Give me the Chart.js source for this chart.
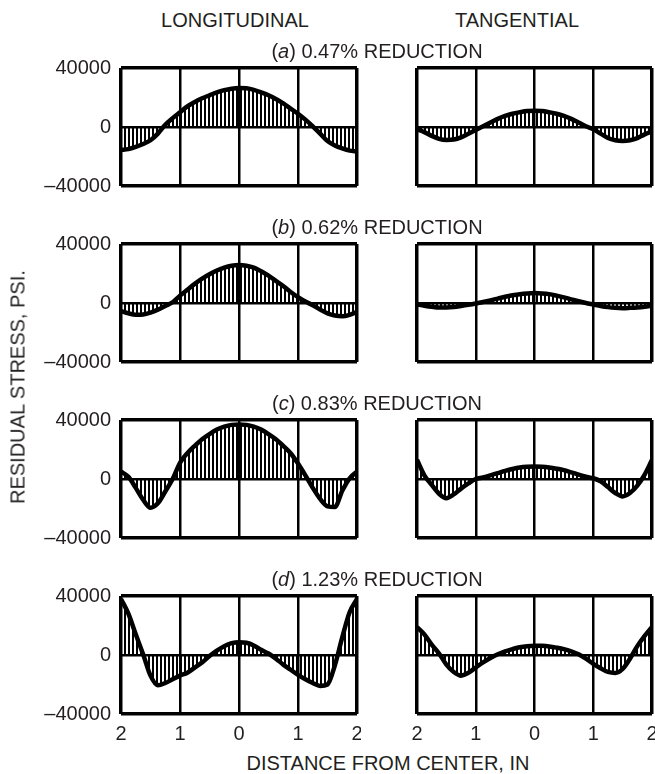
<!DOCTYPE html>
<html>
<head>
<meta charset="utf-8">
<script src="https://cdn.jsdelivr.net/npm/chart.js@4.4.1/dist/chart.umd.min.js"></script>
<style>
  body { margin: 0; background: #fff; }
  #wrap { position: relative; width: 655px; height: 774px; overflow: hidden; font-family: "Liberation Sans", Arial, sans-serif; color: #231f20; }
  canvas { position: absolute; }
  .lbl { position: absolute; font-size: 20px; white-space: nowrap; transform: translate(-50%, -50%); }
</style>
</head>
<body>
<div id="wrap">
  <canvas id="aL" width="361" height="142" style="left:0;top:56px"></canvas>
  <canvas id="aT" width="243" height="142" style="left:412px;top:56px"></canvas>
  <canvas id="bL" width="361" height="142" style="left:0;top:232px"></canvas>
  <canvas id="bT" width="243" height="142" style="left:412px;top:232px"></canvas>
  <canvas id="cL" width="361" height="142" style="left:0;top:408px"></canvas>
  <canvas id="cT" width="243" height="142" style="left:412px;top:408px"></canvas>
  <canvas id="dL" width="361" height="162" style="left:0;top:584px"></canvas>
  <canvas id="dT" width="243" height="162" style="left:412px;top:584px"></canvas>

  <div class="lbl" style="left:235px;top:20px">LONGITUDINAL</div>
  <div class="lbl" style="left:517px;top:20px">TANGENTIAL</div>
  <div class="lbl" style="left:377px;top:51px">(<i>a</i>) 0.47% REDUCTION</div>
  <div class="lbl" style="left:377px;top:227px">(<i>b</i>) 0.62% REDUCTION</div>
  <div class="lbl" style="left:377px;top:403px">(<i>c</i>) 0.83% REDUCTION</div>
  <div class="lbl" style="left:377px;top:579px">(<i>d</i>) 1.23% REDUCTION</div>
  <div class="lbl" style="left:388px;top:763px">DISTANCE FROM CENTER, IN</div>
  <div class="lbl" style="left:18px;top:387px;transform:translate(-50%,-50%) rotate(-90deg)">RESIDUAL STRESS, PSI.</div>
</div>
<script>
// distance from center, inches (left edge = 2, center = 0, right edge = 2)
const xPos = [-2, -1.875, -1.75, -1.625, -1.5, -1.375, -1.25, -1.125, -1, -0.875, -0.75, -0.625, -0.5, -0.375, -0.25, -0.125, 0,
  0.125, 0.25, 0.375, 0.5, 0.625, 0.75, 0.875, 1, 1.125, 1.25, 1.375, 1.5, 1.625, 1.75, 1.875, 2];

// residual stress, psi
const longA = [-15500, -15000, -13500, -11500, -9000, -4500, 1500, 6000, 10000, 14000, 17000, 19500, 21500, 23500, 25000, 26000, 26500,
  26200, 25200, 23500, 21500, 19000, 16000, 12500, 9000, 5000, 500, -4500, -9500, -12500, -14500, -16000, -16500];
const tanA = [-1500, -3500, -6000, -8000, -8800, -8500, -7000, -4500, -2000, 500, 3000, 5500, 7500, 9000, 10000, 10800, 11000,
  10800, 10000, 9000, 7500, 5500, 3000, 500, -1500, -4500, -7500, -9000, -9500, -9000, -7500, -5000, -3000];
const longB = [-5500, -7000, -8000, -7800, -6500, -4500, -2000, 500, 5000, 9000, 13000, 16500, 19500, 22000, 24000, 25300, 25800,
  25300, 24000, 21500, 18500, 15000, 11500, 7500, 4000, 1000, -1500, -4500, -7000, -8500, -9000, -8000, -6000];
const tanB = [-1000, -1800, -2500, -3000, -3000, -2700, -2000, -1200, -300, 700, 1800, 3000, 4200, 5200, 6000, 6500, 6700,
  6500, 6000, 5000, 3800, 2500, 1200, 0, -1000, -2000, -2800, -3300, -3500, -3300, -3000, -2500, -1800];
const longC = [5000, 1500, -6000, -14000, -19500, -16500, -8500, 0, 11000, 17500, 22500, 27000, 30500, 33500, 35500, 36700, 37000,
  36700, 35500, 33500, 30500, 27000, 22500, 17500, 10500, 2500, -6000, -13500, -18500, -19000, -8000, 500, 5000];
const tanC = [13000, 2500, -4000, -10000, -13000, -10500, -6500, -3000, 0, 1000, 2500, 4000, 5500, 6800, 7800, 8300, 8500,
  8300, 7800, 7000, 6000, 4500, 3000, 1500, 500, -1500, -5500, -9500, -11800, -9500, -4500, 3000, 13000];
const longD = [38000, 28000, 14000, 500, -14000, -20500, -19000, -16500, -14000, -12000, -8500, -5000, -700, 3000, 6000, 8000, 8700,
  8300, 6500, 3500, 1000, -2500, -6500, -10000, -13500, -16500, -19000, -21000, -20000, -7000, 12000, 29000, 38000];
const tanD = [19000, 14000, 7000, 1000, -6500, -11500, -14000, -12000, -8500, -5000, -2000, 500, 2500, 4000, 5300, 6000, 6300,
  6200, 5800, 5000, 4000, 2500, 500, -2500, -6000, -9000, -11500, -12200, -9500, -2500, 6000, 13000, 19000];

// ticks
const xTickValues = [-2, -1, 0, 1, 2];
const xTickLabels = ['2', '1', '0', '1', '2'];
const yTickValues = [-40000, 0, 40000];
const yTickLabels = ['\u201340000', '0', '40000'];

// vertical hatching for the area between curve and zero
function makeHatch() {
  const c = document.createElement('canvas');
  c.width = 4; c.height = 4;
  const g = c.getContext('2d');
  g.fillStyle = '#000';
  g.fillRect(0, 0, 2, 4);
  return g.createPattern(c, 'repeat');
}
const hatch = makeHatch();

const tickFont = { family: '"Liberation Sans", Arial, sans-serif', size: 20 };

// stop Chart.js from shrinking the plot to make room for the end labels
function noPad(s) {
  s.paddingTop = 0; s.paddingBottom = 0; s.paddingLeft = 0; s.paddingRight = 0;
}

function makePanel(id, values, isLeft, isBottom) {
  const ctx = document.getElementById(id).getContext('2d');
  return new Chart(ctx, {
    type: 'line',
    data: {
      datasets: [{
        data: xPos.map((x, i) => ({ x: x, y: values[i] })),
        borderColor: '#000',
        borderWidth: 4.5,
        pointRadius: 0,
        fill: 'origin',
        backgroundColor: hatch,
        cubicInterpolationMode: 'monotone'
      }]
    },
    options: {
      responsive: false,
      animation: false,
      events: [],
      layout: { padding: { top: 12, bottom: isBottom ? 0 : 12, left: isLeft ? 0 : 5, right: isLeft ? 4 : 3 } },
      plugins: { legend: { display: false }, tooltip: { enabled: false } },
      scales: {
        x: {
          type: 'linear', min: -2, max: 2,
          afterBuildTicks: s => { s.ticks = xTickValues.map(v => ({ value: v })); },
          afterFit: s => { s.height = isBottom ? 32 : 0; noPad(s); },
          grid: { color: '#000', drawTicks: false, lineWidth: c => (c.index === 0 || c.index === 4) ? 3.5 : 2.5 },
          border: { display: false },
          ticks: { display: isBottom, padding: 8, color: '#231f20', font: tickFont, maxRotation: 0,
            callback: (v, i) => xTickLabels[i] }
        },
        y: {
          min: -40000, max: 40000,
          afterBuildTicks: s => { s.ticks = yTickValues.map(v => ({ value: v })); },
          afterFit: s => { s.width = isLeft ? 121 : 0; noPad(s); },
          grid: { color: '#000', drawTicks: false, lineWidth: c => c.index === 1 ? 2.5 : 3.5 },
          border: { display: false },
          ticks: { display: isLeft, padding: 10, color: '#231f20', font: tickFont,
            callback: (v, i) => yTickLabels[i] }
        }
      }
    }
  });
}

makePanel('aL', longA, true, false);
makePanel('aT', tanA, false, false);
makePanel('bL', longB, true, false);
makePanel('bT', tanB, false, false);
makePanel('cL', longC, true, false);
makePanel('cT', tanC, false, false);
makePanel('dL', longD, true, true);
makePanel('dT', tanD, false, true);
</script>
</body>
</html>
